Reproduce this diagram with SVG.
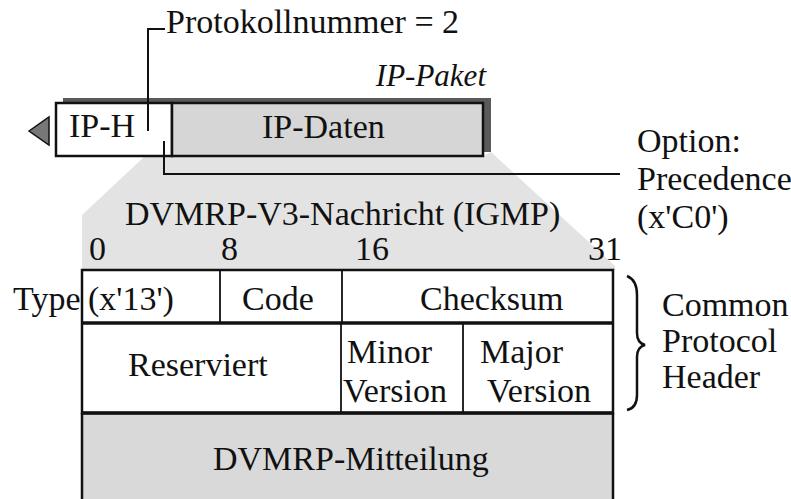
<svg xmlns="http://www.w3.org/2000/svg" width="791" height="499" viewBox="0 0 791 499" font-family="'Liberation Serif', 'Times New Roman', 'DejaVu Serif', serif">
<style>
text{font-family:'Liberation Serif','Times New Roman','DejaVu Serif',serif;font-size:34px;fill:#111}
.it{font-style:italic;font-size:31px}
.box{stroke:#111;stroke-width:2.5}
.div{stroke:#111;stroke-width:1.8;fill:none}
.thick{stroke:#111;stroke-width:3.5;fill:none}
.con{stroke:#111;stroke-width:2;fill:none}
</style>
<rect width="791" height="499" fill="#fff"/>
<g id="funnel">
<polygon points="145,156 483,156 491,152 615,266 615,270 82,270 82,215" fill="#e3e3e3"/>
</g>
<g id="ip-packet">
<rect x="63" y="98" width="428" height="54" fill="#5a5a5a"/>
<polygon points="29,131 49,117 49,145" fill="#777" stroke="#111" stroke-width="1.5"/>
<g id="ip-header">
<rect class="box" x="56" y="103" width="116" height="53" fill="#fff"/>
<text x="69" y="137">IP-H</text>
</g>
<g id="ip-data">
<rect class="box" x="172" y="103" width="311" height="53" fill="#d6d6d6"/>
<text x="262" y="138">IP-Daten</text>
</g>
<text class="it" x="486" y="86" text-anchor="end">IP-Paket</text>
</g>
<g id="labels">
<text x="166" y="33">Protokollnummer = 2</text>
<text x="637" y="152">Option:</text>
<text x="637" y="190">Precedence</text>
<text x="637" y="228">(x'C0')</text>
<text x="125" y="225">DVMRP-V3-Nachricht (IGMP)</text>
<text x="89" y="260">0</text>
<text x="221" y="260">8</text>
<text x="355" y="260">16</text>
<text x="588" y="260">31</text>
<text x="13" y="310">Type</text>
</g>
<g id="dvmrp-message">
<rect x="82" y="413" width="531" height="90" fill="#d9d9d9"/>
<path class="box" d="M82,413 V503 M613,413 V503" fill="none"/>
<text x="213" y="470">DVMRP-Mitteilung</text>
</g>
<g id="common-header">
<rect class="box" x="82" y="270" width="531" height="143" fill="#fff"/>
<g id="field-type"><text x="88" y="310">(x'13')</text></g>
<line class="div" x1="220" y1="270" x2="220" y2="323"/>
<g id="field-code"><text x="242" y="310">Code</text></g>
<line class="div" x1="342" y1="270" x2="342" y2="323"/>
<g id="field-checksum"><text x="420" y="310">Checksum</text></g>
<line class="thick" x1="82" y1="323" x2="613" y2="323"/>
<g id="field-reserved"><text x="128" y="376">Reserviert</text></g>
<line class="div" x1="341" y1="323" x2="341" y2="413"/>
<g id="field-minor"><text x="347" y="363">Minor</text><text x="343" y="402">Version</text></g>
<line class="div" x1="463" y1="323" x2="463" y2="413"/>
<g id="field-major"><text x="480" y="363">Major</text><text x="487" y="402">Version</text></g>
<line class="thick" x1="82" y1="413" x2="613" y2="413"/>
</g>
<g id="brace-label">
<path d="M627,276 Q637,280 637,295 V333 Q637,343 645,345 Q637,347 637,357 V395 Q637,408 627,410" fill="none" stroke="#111" stroke-width="2.5"/>
<text x="662" y="316">Common</text>
<text x="662" y="352">Protocol</text>
<text x="662" y="388">Header</text>
</g>
<g id="connectors">
<polyline class="con" points="165,29 148,29 148,131"/>
<polyline class="con" points="164,141 164,174 620,174"/>
</g>
</svg>
